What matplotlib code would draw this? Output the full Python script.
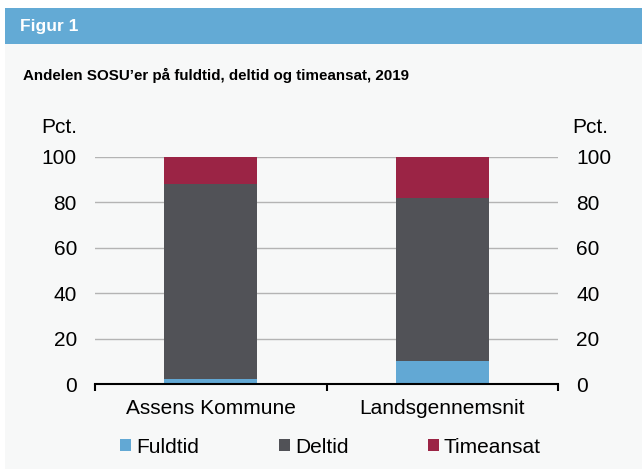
import matplotlib.pyplot as plt
from matplotlib.patches import Rectangle, Patch
import numpy as np

plt.rcParams['font.family'] = ['Liberation Sans', 'DejaVu Sans']

categories = ["Assens Kommune", "Landsgennemsnit"]
fuldtid = [2, 10]
deltid = [86, 72]
timeansat = [12, 18]
series_names = ["Fuldtid", "Deltid", "Timeansat"]
colors = ["#62a8d4", "#515257", "#9b2445"]
yticks = [0, 20, 40, 60, 80, 100]

W, H = 642, 469
FS = 15
fig = plt.figure(figsize=(W/100, H/100), dpi=100, facecolor="white")
# background panel
fig.patches.append(Rectangle((5/W, 0), 1 - 5/W, (H-44)/H, transform=fig.transFigure,
                             facecolor="#f7f8f8", edgecolor="none", zorder=-10))
# header band
fig.patches.append(Rectangle((5/W, (H-44)/H), 1 - 5/W, 36/H, transform=fig.transFigure,
                             facecolor="#63aad5", edgecolor="none", zorder=-10))
fig.text(20/W, 1 - 27/H, "Figur 1", color="white", fontsize=12.5, fontweight="bold",
         va="center", ha="left")
fig.text(23/W, 1 - 75/H, "Andelen SOSU\u2019er på fuldtid, deltid og timeansat, 2019",
         fontsize=10.9, fontweight="bold", va="center", ha="left")

ax = fig.add_axes([95/W, (H-384)/H, 463/W, 227.3/H])
ax.set_facecolor("none")
x = np.arange(len(categories))
bw = 0.4
ax.bar(x, fuldtid, bw, color=colors[0], zorder=3)
ax.bar(x, deltid, bw, bottom=fuldtid, color=colors[1], zorder=3)
bottom2 = np.array(fuldtid) + np.array(deltid)
ax.bar(x, timeansat, bw, bottom=bottom2, color=colors[2], zorder=3)

ax.set_xlim(-0.5, 1.5)
ax.set_ylim(0, 100)
ax.set_yticks(yticks)
ax.yaxis.grid(True, color="#b4b4b4", linewidth=1, zorder=0)
for s in ["top", "left", "right"]:
    ax.spines[s].set_visible(False)
ax.spines["bottom"].set_linewidth(1.5)
ax.spines["bottom"].set_zorder(4)
ax.tick_params(axis="y", length=0, labelsize=FS, pad=13,
               labelleft=True, labelright=True)
ax.set_xticks(x)
ax.set_xticklabels(categories, fontsize=FS)
ax.tick_params(axis="x", length=0, pad=11)
ax.set_xticks([-0.5, 0.5, 1.5], minor=True)
ax.tick_params(axis="x", which="minor", length=5, width=1.5, direction="out")
ax.text(-0.038, 1.13, "Pct.", transform=ax.transAxes, fontsize=FS, ha="right", va="center")
ax.text(1.03, 1.13, "Pct.", transform=ax.transAxes, fontsize=FS, ha="left", va="center")

handles = [Patch(facecolor=c, edgecolor="none") for c in colors]
fig.legend(handles, series_names, loc="center left", bbox_to_anchor=(112/W, 1 - 447/H),
           ncol=3, frameon=False, fontsize=FS, handlelength=0.53, handleheight=0.53,
           handletextpad=0.25, columnspacing=3.8, borderaxespad=0)

fig.savefig("out.png", dpi=100, facecolor=fig.get_facecolor())
